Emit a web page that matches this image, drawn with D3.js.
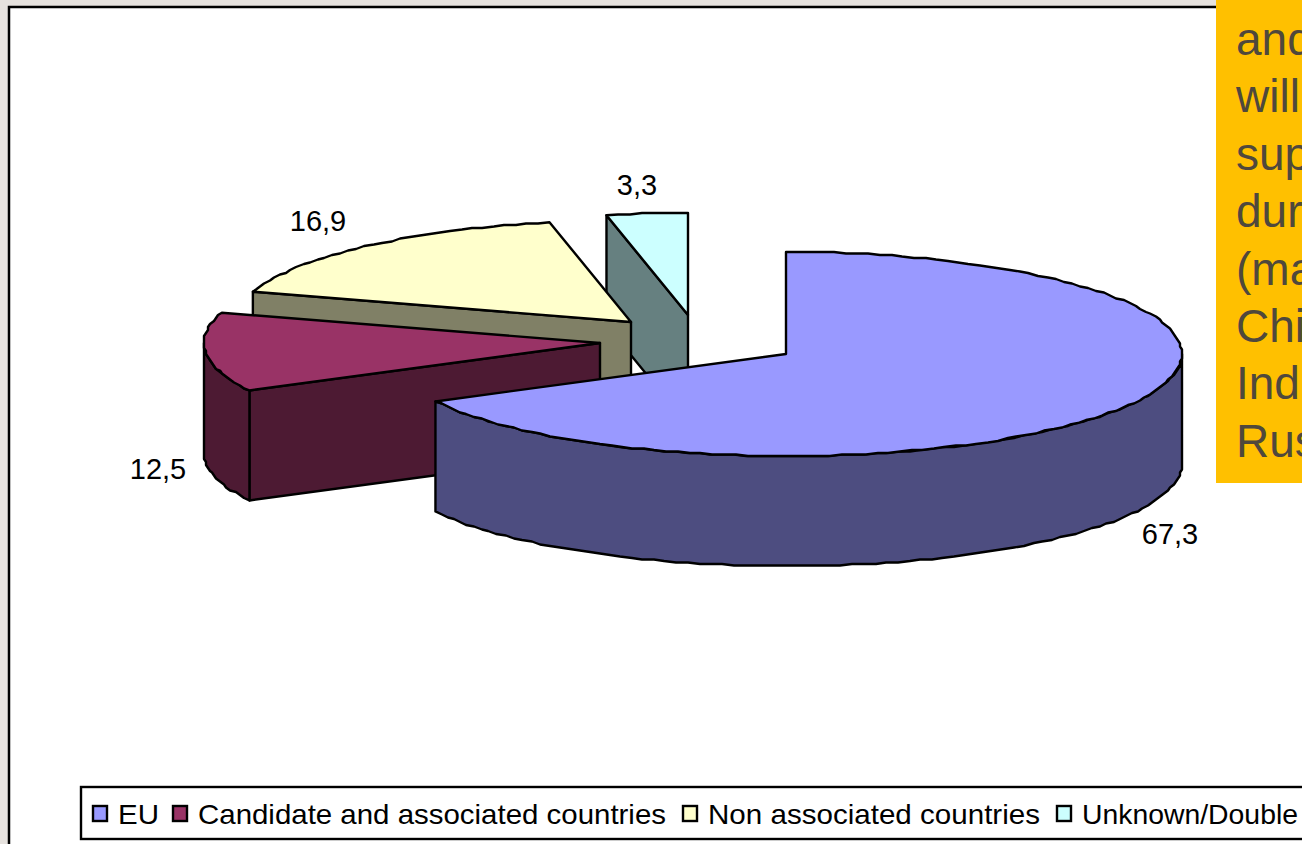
<!DOCTYPE html>
<html>
  <head>
    <meta charset="utf-8">
    <script src="https://cdnjs.cloudflare.com/ajax/libs/d3/7.8.5/d3.min.js"></script>
    <style type="text/css">
      html, body {
        margin: 0;
        overflow: hidden;
        background: #e6e2de;
      }
      svg { display: block; }
      text { font-family: "Liberation Sans", Arial, sans-serif; }
    </style>
  </head>
  <body>
    <script type="text/javascript">
      // data
      var categories = ["EU", "Candidate and associated countries", "Non associated countries", "Unknown/Double"];
      var values = [67.3, 12.5, 16.9, 3.3];
      var topColors = ["#9999ff", "#993366", "#ffffcc", "#ccffff"];
      var sideColors = ["#4d4d80", "#4d1a33", "#808066", "#668080"];

      // what is left of the text box, the slide cuts it off on the right
      var noteLines = ["and", "will", "sup", "dur", "(ma", "Chi", "Ind", "Rus"];

      // layout of the exploded slices: where each apex lands on screen
      var apexX = [786, 600, 631, 688],
          apexY = [354, 343, 322, 315],
          labelX = [1170, 158, 318, 637],
          labelY = [544, 479, 231, 195];

      // legend layout, the labels are a bit stretched in the original
      var legendX = [93, 173, 683, 1057],
          legendWidth = [41, 468, 332, 216];

      var w = 1302, h = 844,
          rx = 396, ry = 102,  // flattened ellipse of the pie
          depth = 110;

      var svg = d3.select("body").append("svg")
          .attr("width", w)
          .attr("height", h);

      // white panel with its black frame, runs off the right and the bottom
      svg.append("rect")
          .attr("x", 9).attr("y", 7)
          .attr("width", w + 20).attr("height", h + 20)
          .attr("fill", "white")
          .attr("stroke", "black")
          .attr("stroke-width", 2.5);

      // angles clockwise from the top, in data order
      var arcs = d3.pie().sort(null)(values);

      var line = d3.line();

      function project(d, theta, drop) {
        var xs = d3.scaleLinear().domain([-1, 1]).range([apexX[d.index] - rx, apexX[d.index] + rx]),
            ys = d3.scaleLinear().domain([-1, 1]).range([apexY[d.index] + ry, apexY[d.index] - ry]);
        return [xs(Math.sin(theta)), ys(Math.cos(theta)) + drop];
      }

      // the original metafile has coarse coordinates, so the curves come out a bit stepped
      function rim(d, a0, a1, drop) {
        var n = Math.max(2, Math.ceil((a1 - a0) / 0.03));
        return d3.range(n + 1).map(function(i) {
          var p = project(d, a0 + (a1 - a0) * i / n, drop);
          if (i == 0 || i == n) return p;
          return [Math.round(p[0] / 2) * 2, Math.round(p[1] / 1.5) * 1.5];
        });
      }

      var slices = svg.selectAll("g.slice")
          .data(arcs.slice().reverse())  // back slices first
          .enter()
          .append("g")
          .attr("class", "slice")
          .attr("stroke", "black")
          .attr("stroke-width", 2.4)
          .attr("stroke-linejoin", "round");

      // cut face on the start edge, only seen on the left half
      slices.filter(function(d) { return d.startAngle >= Math.PI; })
          .append("path")
          .attr("fill", function(d) { return sideColors[d.index]; })
          .attr("d", function(d) {
            return line([
              project(d, d.startAngle, 0),
              [apexX[d.index], apexY[d.index]],
              [apexX[d.index], apexY[d.index] + depth],
              project(d, d.startAngle, depth)
            ]) + "Z";
          });

      // outer wall, only the part that faces the viewer
      slices.filter(function(d) {
            return Math.max(d.startAngle, Math.PI / 2) < Math.min(d.endAngle, Math.PI * 1.5);
          })
          .append("path")
          .attr("fill", function(d) { return sideColors[d.index]; })
          .attr("d", function(d) {
            var a0 = Math.max(d.startAngle, Math.PI / 2),
                a1 = Math.min(d.endAngle, Math.PI * 1.5);
            return line(rim(d, a0, a1, 0).concat(rim(d, a0, a1, depth).reverse())) + "Z";
          });

      // top face
      slices.append("path")
          .attr("fill", function(d) { return topColors[d.index]; })
          .attr("d", function(d) {
            return line([[apexX[d.index], apexY[d.index]]].concat(rim(d, d.startAngle, d.endAngle, 0))) + "Z";
          });

      // value labels, with a decimal comma
      svg.selectAll("text.value")
          .data(values)
          .enter()
          .append("text")
          .attr("class", "value")
          .attr("x", function(d, i) { return labelX[i]; })
          .attr("y", function(d, i) { return labelY[i]; })
          .attr("text-anchor", "middle")
          .attr("font-size", 29)
          .attr("fill", "black")
          .text(function(d) { return String(d).replace(".", ","); });

      // legend box, also cut off by the right edge
      svg.append("rect")
          .attr("x", 81).attr("y", 787)
          .attr("width", w).attr("height", 52)
          .attr("fill", "white")
          .attr("stroke", "black")
          .attr("stroke-width", 2.4);

      categories.forEach(function(name, i) {
        svg.append("rect")
            .attr("x", legendX[i]).attr("y", 806)
            .attr("width", 14).attr("height", 15)
            .attr("fill", topColors[i])
            .attr("stroke", "black")
            .attr("stroke-width", 2.4);
        svg.append("text")
            .attr("x", legendX[i] + 25)
            .attr("y", 824)
            .attr("font-size", 28.5)
            .attr("textLength", legendWidth[i])
            .attr("lengthAdjust", "spacingAndGlyphs")
            .attr("fill", "black")
            .text(name);
      });

      // orange text box
      svg.append("rect")
          .attr("x", 1216).attr("y", 0)
          .attr("width", 90).attr("height", 483)
          .attr("fill", "#ffc000");

      svg.selectAll("text.note")
          .data(noteLines)
          .enter()
          .append("text")
          .attr("class", "note")
          .attr("x", 1236)
          .attr("y", function(d, i) { return 55 + i * 57.4; })
          .attr("font-size", 46)
          .attr("fill", "#4f483c")
          .text(function(d) { return d; });
    </script>
  </body>
</html>
